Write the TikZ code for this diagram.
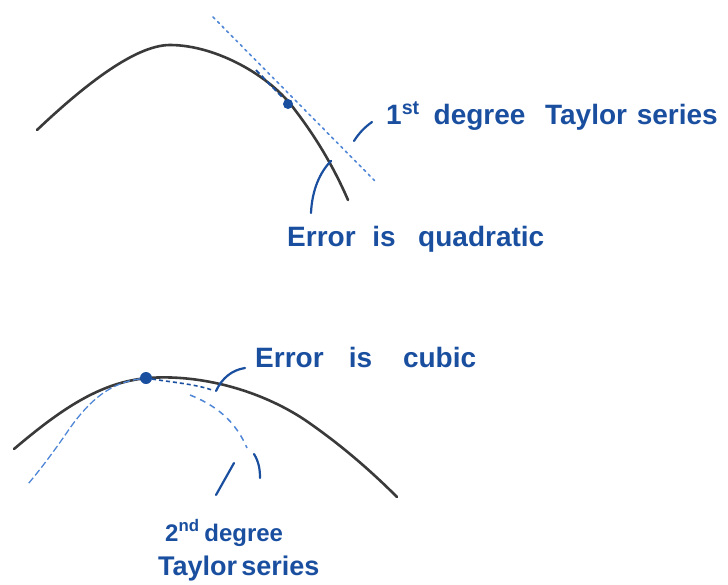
\documentclass[tikz,border=0pt]{standalone}
\usepackage{fontspec}
\setmainfont{Liberation Sans}
\definecolor{ink}{HTML}{1A4FA0}
\definecolor{lightink}{HTML}{4F86D6}
\definecolor{curvegray}{HTML}{3A3A3A}
\tikzset{
  fcurve/.style={draw=curvegray, line width=2.6pt, line cap=round},
  tangent/.style={draw=lightink, line width=1.6pt, dash pattern=on 2.5pt off 4pt, line cap=round},
  approx/.style={draw=lightink, line width=1.3pt, dash pattern=on 7pt off 3pt},
  pointer/.style={draw=ink, line width=2.2pt, line cap=round},
  lbl/.style={text=ink, inner sep=0pt, anchor=base west, font=\bfseries\fontsize{28}{32}\selectfont},
  tdot/.style={circle, fill=ink, inner sep=0pt, minimum size=12pt}
}
\begin{document}
\begin{tikzpicture}[x=1pt,y=-1pt]
\useasboundingbox (0,0) rectangle (728,584);
% ---------- top ----------
\draw[fcurve] (37,130) .. controls (95,75) and (140,45) .. (170,45)
  .. controls (215,45) and (270,75) .. (295,110)
  .. controls (318,140) and (335,170) .. (348,200);
\coordinate (t1) at (213,17);
\coordinate (t2) at (376,182);
\draw[tangent] (t1) -- (t2);
\draw[draw=ink, line width=1.8pt, dash pattern=on 5pt off 3pt] (256,70) -- (282,97);
\node[tdot, minimum size=10pt] (p1) at (288,104) {};
\node[lbl] (lab1) at (386,124) {1\textsuperscript{st}\hspace{0.5em}degree\hspace{0.7em}Taylor\hspace{0.35em}series};
\node[lbl] (err1) at (287,246) {Error\hspace{0.6em}is\hspace{0.8em}quadratic};
\coordinate (e1a) at (311,213);
\coordinate (e1b) at (331,161);
\draw[pointer] (e1a) .. controls (312,190) and (320,172) .. (e1b);
\coordinate (d1a) at (354,141);
\coordinate (d1b) at (372,122);
\draw[pointer] (d1a) .. controls (359,133) and (365,127) .. (d1b);
% ---------- bottom ----------
\draw[fcurve] (14,449) .. controls (60,410) and (100,382) .. (148,378)
  .. controls (200,374) and (260,390) .. (305,420)
  .. controls (340,444) and (370,470) .. (397,497);
\node[tdot] (p2) at (146,378) {};
\draw[approx] (p2) .. controls (110,383) and (90,400) .. (70,428)
  .. controls (55,450) and (40,470) .. (28,484);
\draw[draw=ink, line width=1.6pt, dash pattern=on 4pt off 3pt] (p2) .. controls (170,382) and (195,384) .. (212,390);
\draw[draw=lightink, line width=1.5pt, dash pattern=on 6pt off 5pt] (190,395) .. controls (215,405) and (235,420) .. (247,448);
\node[lbl] (err2) at (255,367) {Error\hspace{0.9em}is\hspace{1.1em}cubic};
\coordinate (e2a) at (216,391);
\coordinate (e2b) at (245,368);
\draw[pointer] (e2a) .. controls (222,378) and (232,370) .. (e2b);
\coordinate (s1a) at (216,495);
\coordinate (s1b) at (234,463);
\draw[pointer] (s1a) -- (s1b);
\coordinate (s2a) at (254,454);
\coordinate (s2b) at (260,478);
\draw[pointer] (s2a) .. controls (259,462) and (260,470) .. (s2b);
\node[lbl, font=\bfseries\fontsize{24}{28}\selectfont] (lab2a) at (165,541) {2\textsuperscript{nd}\hspace{0.2em}degree};
\node[lbl, font=\bfseries\fontsize{27}{30}\selectfont] (lab2b) at (158,575) {Taylor\hspace{0.15em}series};
\end{tikzpicture}
\end{document}
